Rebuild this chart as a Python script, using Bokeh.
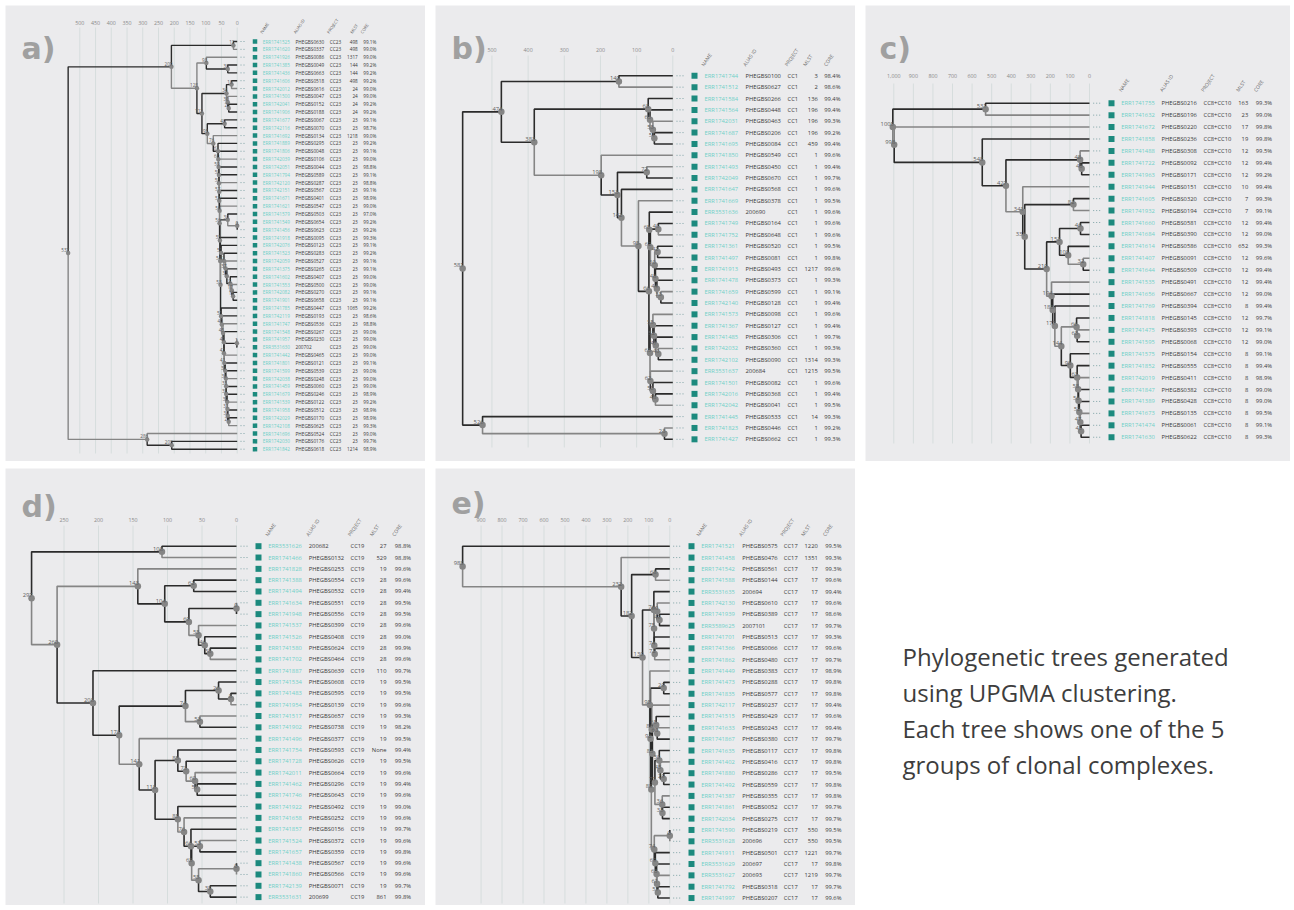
from bokeh.plotting import figure
from bokeh.models import Range1d, Label, ColumnDataSource, Spacer
from bokeh.layouts import row, column
from bokeh.embed import file_html
from bokeh.resources import INLINE
from bokeh.core.properties import value

# ----------------------------------------------------------------- data ----
HEADERS = ["NAME", "ALIAS ID", "PROJECT", "MLST", "CORE"]

# ---- panel a (CC23)
NAMES_A = ["ERR1741525", "ERR1741620", "ERR1741926", "ERR1741385", "ERR1741436", "ERR1741606",
           "ERR1742012", "ERR1741500", "ERR1742041", "ERR1741906", "ERR1741677", "ERR1742116",
           "ERR1741692", "ERR1741889", "ERR1741806", "ERR1742039", "ERR1742051", "ERR1741794",
           "ERR1742120", "ERR1742151", "ERR1741671", "ERR1741621", "ERR1741579", "ERR1741549",
           "ERR1741456", "ERR1741918", "ERR1742076", "ERR1741523", "ERR1742059", "ERR1741375",
           "ERR1741602", "ERR1741553", "ERR1742082", "ERR1741901", "ERR1741785", "ERR1742119",
           "ERR1741747", "ERR1741548", "ERR1741957", "ERR3531630", "ERR1741442", "ERR1741801",
           "ERR1741599", "ERR1742038", "ERR1741459", "ERR1741679", "ERR1741539", "ERR1741958",
           "ERR1742029", "ERR1742108", "ERR1741696", "ERR1742030", "ERR1741842"]
ALIAS_A = ["PHEGBS0630", "PHEGBS0337", "PHEGBS0086", "PHEGBS0049", "PHEGBS0663", "PHEGBS0518",
           "PHEGBS0616", "PHEGBS0047", "PHEGBS0152", "PHEGBS0188", "PHEGBS0067", "PHEGBS0070",
           "PHEGBS0134", "PHEGBS0295", "PHEGBS0048", "PHEGBS0106", "PHEGBS0044", "PHEGBS0589",
           "PHEGBS0287", "PHEGBS0567", "PHEGBS0401", "PHEGBS0547", "PHEGBS0503", "PHEGBS0654",
           "PHEGBS0623", "PHEGBS0095", "PHEGBS0123", "PHEGBS0283", "PHEGBS0527", "PHEGBS0265",
           "PHEGBS0407", "PHEGBS0500", "PHEGBS0270", "PHEGBS0658", "PHEGBS0447", "PHEGBS0193",
           "PHEGBS0536", "PHEGBS0267", "PHEGBS0230", "200702", "PHEGBS0465", "PHEGBS0121",
           "PHEGBS0539", "PHEGBS0248", "PHEGBS0060", "PHEGBS0246", "PHEGBS0122", "PHEGBS0512",
           "PHEGBS0170", "PHEGBS0625", "PHEGBS0524", "PHEGBS0176", "PHEGBS0618"]
PROJECT_A = "CC23"
MLST_A = ["498", "498", "1317", "144", "144", "498", "24", "24", "24", "24", "23", "23", "1218",
          "23", "23", "23", "23", "23", "23", "23", "23", "23", "23", "23", "23", "23", "23",
          "23", "23", "23", "23", "23", "23", "23", "1065", "23", "23", "23", "23", "23", "23",
          "23", "23", "23", "23", "23", "23", "23", "23", "23", "23", "23", "1214"]
CORE_A = ["99.1%", "99.0%", "99.0%", "99.2%", "99.2%", "99.2%", "99.0%", "99.0%", "99.2%", "99.2%",
          "99.1%", "98.7%", "99.0%", "99.2%", "99.1%", "99.0%", "98.8%", "99.1%", "98.8%", "99.1%",
          "98.9%", "99.0%", "97.0%", "99.2%", "99.2%", "99.3%", "99.1%", "99.2%", "99.1%", "99.1%",
          "99.0%", "99.0%", "99.1%", "99.1%", "99.2%", "98.6%", "98.8%", "99.0%", "99.0%", "99.0%",
          "99.0%", "99.1%", "99.0%", "99.0%", "99.0%", "98.9%", "99.2%", "98.9%", "98.9%", "99.3%",
          "99.0%", "99.7%", "98.9%"]
TICKS_A = [0, 50, 100, 150, 200, 250, 300, 350, 400, 450, 500]
# UPGMA tree, Newick style: leaves are row numbers, internal labels are node heights
TREE_A = (
    "(((0,1)12,((2,(3,4)30)98,(((5,6)18,(7,(8,9)27)30)34,((10,11)40,"
    "(12,(13,(14,(15,(16,(17,(18,(19,(20,(21,((22,(23,24)0)30,(25,("
    "(26,(27,(28,(29,(30,(31,(32,33)13)17)22)33)37)42)51,"
    "(34,(35,(36,(37,((38,39)1,(40,(41,(42,(43,(44,(45,(46,(47,(48,49)27)"
    "30)31)32)35)35)36)38)41)42)42)45)49)51"
    ")53)54)55)56)56)57)57)58)58)59)60)61)76)95)112)128)209,"
    "(50,(51,52)208)286)537"
)

# ---- panel b (CC1)
NAMES_B = ["ERR1741744", "ERR1741512", "ERR1741584", "ERR1741564", "ERR1742031", "ERR1741687",
           "ERR1741695", "ERR1741850", "ERR1741493", "ERR1742049", "ERR1741647", "ERR1741669",
           "ERR3531636", "ERR1741749", "ERR1741752", "ERR1741361", "ERR1741497", "ERR1741913",
           "ERR1741478", "ERR1741659", "ERR1742140", "ERR1741573", "ERR1741367", "ERR1741485",
           "ERR1742032", "ERR1742102", "ERR3531637", "ERR1741501", "ERR1742016", "ERR1742042",
           "ERR1741445", "ERR1741823", "ERR1741427"]
ALIAS_B = ["PHEGBS0100", "PHEGBS0627", "PHEGBS0266", "PHEGBS0448", "PHEGBS0463", "PHEGBS0206",
           "PHEGBS0084", "PHEGBS0549", "PHEGBS0450", "PHEGBS0670", "PHEGBS0568", "PHEGBS0378",
           "200690", "PHEGBS0164", "PHEGBS0648", "PHEGBS0520", "PHEGBS0081", "PHEGBS0493",
           "PHEGBS0373", "PHEGBS0599", "PHEGBS0128", "PHEGBS0098", "PHEGBS0127", "PHEGBS0306",
           "PHEGBS0360", "PHEGBS0090", "200684", "PHEGBS0082", "PHEGBS0368", "PHEGBS0041",
           "PHEGBS0533", "PHEGBS0446", "PHEGBS0662"]
PROJECT_B = "CC1"
MLST_B = ["3", "2", "136", "196", "196", "196", "459", "1", "1", "1", "1", "1", "1", "1", "1", "1",
          "1", "1217", "1", "1", "1", "1", "1", "1", "1", "1314", "1215", "1", "1", "1", "14", "1", "1"]
CORE_B = ["98.4%", "98.6%", "99.4%", "99.4%", "99.3%", "99.2%", "99.4%", "99.6%", "99.4%", "99.7%",
          "99.6%", "99.5%", "99.6%", "99.6%", "99.6%", "99.5%", "99.8%", "99.6%", "99.3%", "99.1%",
          "99.4%", "99.6%", "99.4%", "99.7%", "99.3%", "99.3%", "99.5%", "99.6%", "99.4%", "99.5%",
          "99.3%", "99.2%", "99.3%"]
TICKS_B = [0, 100, 200, 300, 400, 500]
TREE_B = (
    "(((0,1)149,((2,(3,(4,(5,6)51)55)63)68,(7,((8,9)72,(10,(11,("
    "(12,((13,14)40,((15,16)42,(17,(18,(19,20)33)44)48)50)62)65,"
    "((21,(22,(23,(24,25)40)47)52)55,(26,(27,(28,29)48)55)62)63"
    ")66)95)142)153)198)383)474,(30,(31,32)23)526)581"
)

# ---- panel c (CC8+CC10)
NAMES_C = ["ERR1741755", "ERR1741632", "ERR1741672", "ERR1741858", "ERR1741488", "ERR1741722",
           "ERR1741963", "ERR1741944", "ERR1741605", "ERR1741932", "ERR1741660", "ERR1741684",
           "ERR1741614", "ERR1741407", "ERR1741644", "ERR1741535", "ERR1741656", "ERR1741769",
           "ERR1741818", "ERR1741475", "ERR1741595", "ERR1741575", "ERR1741852", "ERR1742019",
           "ERR1741847", "ERR1741389", "ERR1741673", "ERR1741474", "ERR1741630"]
ALIAS_C = ["PHEGBS0216", "PHEGBS0196", "PHEGBS0220", "PHEGBS0236", "PHEGBS0308", "PHEGBS0092",
           "PHEGBS0171", "PHEGBS0151", "PHEGBS0320", "PHEGBS0194", "PHEGBS0581", "PHEGBS0390",
           "PHEGBS0586", "PHEGBS0091", "PHEGBS0509", "PHEGBS0491", "PHEGBS0667", "PHEGBS0394",
           "PHEGBS0145", "PHEGBS0393", "PHEGBS0068", "PHEGBS0154", "PHEGBS0555", "PHEGBS0411",
           "PHEGBS0382", "PHEGBS0428", "PHEGBS0135", "PHEGBS0061", "PHEGBS0622"]
PROJECT_C = "CC8+CC10"
MLST_C = ["163", "23", "17", "19", "12", "12", "12", "10", "7", "7", "12", "12", "652", "12", "12",
          "12", "12", "8", "12", "12", "12", "8", "8", "8", "8", "8", "8", "8", "8"]
CORE_C = ["99.3%", "99.0%", "99.8%", "99.8%", "99.5%", "99.4%", "99.2%", "99.4%", "99.3%", "99.1%",
          "99.4%", "99.0%", "99.3%", "99.6%", "99.4%", "99.4%", "99.0%", "99.4%", "99.7%", "99.1%",
          "99.0%", "99.1%", "99.4%", "98.9%", "99.0%", "99.0%", "99.5%", "99.1%", "99.3%"]
TICKS_C = [0, 100, 200, 300, 400, 500, 600, 700, 800, 900, 1000]
TREE_C = (
    "((0,1)531,(2,(3,((4,(5,6)40)48,(7,((8,9)82,(((10,11)46,(12,(13,14)32)109)153,"
    "(15,(16,(17,((18,(19,20)63)66,(21,(22,(23,(24,(25,(26,(27,28)43)47)52)56)58)63)98)144)"
    "177)188)194)219)331)341)427)548)998)1005"
)

# ---- panel d (CC19)
NAMES_D = ["ERR3531626", "ERR1741466", "ERR1741828", "ERR1741388", "ERR1741494", "ERR1741634",
           "ERR1741948", "ERR1741537", "ERR1741526", "ERR1741580", "ERR1741702", "ERR1741887",
           "ERR1741534", "ERR1741483", "ERR1741954", "ERR1741517", "ERR1741902", "ERR1741496",
           "ERR1741754", "ERR1741728", "ERR1742011", "ERR1741462", "ERR1741746", "ERR1741922",
           "ERR1741658", "ERR1741857", "ERR1741524", "ERR1741657", "ERR1741438", "ERR1741860",
           "ERR1742139", "ERR3531631"]
ALIAS_D = ["200682", "PHEGBS0132", "PHEGBS0253", "PHEGBS0554", "PHEGBS0532", "PHEGBS0551",
           "PHEGBS0556", "PHEGBS0399", "PHEGBS0408", "PHEGBS0624", "PHEGBS0464", "PHEGBS0639",
           "PHEGBS0608", "PHEGBS0595", "PHEGBS0139", "PHEGBS0657", "PHEGBS0738", "PHEGBS0377",
           "PHEGBS0593", "PHEGBS0626", "PHEGBS0664", "PHEGBS0296", "PHEGBS0643", "PHEGBS0492",
           "PHEGBS0252", "PHEGBS0156", "PHEGBS0372", "PHEGBS0359", "PHEGBS0567", "PHEGBS0566",
           "PHEGBS0071", "200699"]
PROJECT_D = "CC19"
MLST_D = ["27", "529", "19", "28", "28", "28", "28", "28", "28", "28", "28", "110", "19", "19",
          "19", "19", "19", "19", "None", "19", "19", "19", "19", "19", "19", "19", "19", "19",
          "19", "19", "19", "861"]
CORE_D = ["98.8%", "98.8%", "99.6%", "99.6%", "99.4%", "99.5%", "99.5%", "99.6%", "99.0%", "99.9%",
          "99.6%", "99.7%", "99.5%", "99.5%", "99.6%", "99.3%", "98.2%", "99.5%", "99.4%", "99.5%",
          "99.6%", "99.4%", "99.6%", "99.0%", "99.6%", "99.7%", "99.6%", "99.8%", "99.6%", "99.6%",
          "99.7%", "99.8%"]
TICKS_D = [0, 50, 100, 150, 200, 250]
TREE_D = (
    "((0,1)108,((2,((3,4)62,((5,6)0,(7,(8,(9,10)38)46)55)69)104)143,"
    "(11,(((12,(13,14)8)26,(15,16)53)74,(17,((18,(19,(20,(21,22)57)60)73)85,"
    "(23,(24,(25,((26,27)53,((28,29)0,(30,31)38)55)65)66)76)85)118)141)170)208)260)297"
)

# ---- panel e (CC17)
NAMES_E = ["ERR1741521", "ERR1741458", "ERR1741542", "ERR1741588", "ERR3531635", "ERR1742130",
           "ERR1741939", "ERR3589625", "ERR1741701", "ERR1741366", "ERR1741862", "ERR1741449",
           "ERR1741473", "ERR1741835", "ERR1742117", "ERR1741515", "ERR1741633", "ERR1741867",
           "ERR1741635", "ERR1741402", "ERR1741880", "ERR1741492", "ERR1741387", "ERR1741861",
           "ERR1742034", "ERR1741590", "ERR3531628", "ERR1741911", "ERR3531629", "ERR3531627",
           "ERR1741792", "ERR1741997"]
ALIAS_E = ["PHEGBS0575", "PHEGBS0476", "PHEGBS0561", "PHEGBS0144", "200694", "PHEGBS0610",
           "PHEGBS0389", "2007101", "PHEGBS0513", "PHEGBS0066", "PHEGBS0480", "PHEGBS0383",
           "PHEGBS0288", "PHEGBS0577", "PHEGBS0237", "PHEGBS0429", "PHEGBS0243", "PHEGBS0380",
           "PHEGBS0117", "PHEGBS0416", "PHEGBS0286", "PHEGBS0559", "PHEGBS0355", "PHEGBS0052",
           "PHEGBS0275", "PHEGBS0219", "200696", "PHEGBS0501", "200697", "200693", "PHEGBS0318",
           "PHEGBS0207"]
PROJECT_E = "CC17"
MLST_E = ["1220", "1351", "17", "17", "17", "17", "17", "17", "17", "17", "17", "17", "17", "17",
          "17", "17", "17", "17", "17", "17", "17", "17", "17", "17", "17", "550", "550", "1221",
          "17", "1219", "17", "17"]
CORE_E = ["99.5%", "99.3%", "99.3%", "99.6%", "99.4%", "99.6%", "98.6%", "99.7%", "99.3%", "99.6%",
          "99.7%", "98.9%", "99.8%", "99.8%", "99.4%", "99.6%", "99.4%", "99.7%", "99.8%", "99.8%",
          "99.5%", "99.8%", "99.8%", "99.7%", "99.7%", "99.5%", "99.5%", "99.7%", "99.8%", "99.7%",
          "99.7%", "99.6%"]
TICKS_E = [0, 100, 200, 300, 400, 500, 600, 700, 800, 900]
TREE_E = (
    "(0,(1,((2,3)68,((4,((5,(6,7)49)60,(8,(9,10)72)74)75)76,(11,((12,13)29,"
    "((14,((15,(16,17)60)65,((18,(19,(20,21)29)45)50,(22,(23,24)35)36)71)83)86,"
    "((25,26)0,(27,(28,(29,(30,31)57)61)63)69)74)88)92)95)130)182)232)988"
)

TEXT_LINES = ["Phylogenetic trees generated", "using UPGMA clustering.",
              "Each tree shows one of the 5", "groups of clonal complexes."]

# ---------------------------------------------------------------- style ----
FONT = "Open Sans"
BG = "#ebebed"
GRID = "#d6dddd"
DARK = "#2b2b2b"
GREY = "#858585"
TEAL = "#1c8a7e"
NAMEC = "#6fd0c8"
TXT = "#3a3a3a"
DOTC = "#7fa3a6"

# geometry in layout pixels: panel box (left, top, w, h) and content positions
LAY = {
    "a": dict(box=(5, 5, 420, 456), grid=(27, 453), tick_y=22, row0=41.0, dy=7.84, zero=236.7,
              scale=0.3148, dots=(240, 246), sq=254.5, sq_size=4.5,
              cols=(262.3, 295.0, 329.3, 357.3, 362.7), hdr=(262.7, 296.0, 329.5, 352.7, 363.0),
              hdr_y=34.0, fs=4.7, hfs=4.2, lfs=4.6, dot=4.5, lw=1.4, letter=(21, 30)),
    "b": dict(box=(435, 5, 420, 456), grid=(55, 447), tick_y=49, row0=75.3, dy=11.36, zero=672.3,
              scale=0.3617, dots=(676, 683.3), sq=694, sq_size=6,
              cols=(704, 745, 787, 817.3, 823.7), hdr=(704.3, 746, 787.7, 806, 826.7),
              hdr_y=66.7, fs=5.8, hfs=5, lfs=5.8, dot=6.5, lw=1.6, letter=(451, 30)),
    "c": dict(box=(865, 5, 425, 456), grid=(83, 443), tick_y=75, row0=102.7, dy=11.93, zero=1089,
              scale=0.1957, dots=(1092.7, 1100), sq=1111, sq_size=6,
              cols=(1120.7, 1161, 1203, 1247.7, 1255.3), hdr=(1121.7, 1162.7, 1204, 1239, 1256.7),
              hdr_y=92.3, fs=5.8, hfs=5, lfs=5.8, dot=6.5, lw=1.6, letter=(879, 30)),
    "d": dict(box=(5, 468, 420, 437), grid=(525, 903), tick_y=519, row0=545.7, dy=11.32, zero=236,
              scale=0.690, dots=(240, 247.7), sq=258, sq_size=6,
              cols=(267.7, 308.3, 350, 386, 394.3), hdr=(268.3, 309, 350.7, 372.7, 395),
              hdr_y=536.7, fs=5.8, hfs=5, lfs=5.8, dot=6.5, lw=1.6, letter=(21, 488)),
    "e": dict(box=(435, 468, 420, 437), grid=(525, 903), tick_y=519, row0=545.7, dy=11.35,
              zero=669.3, scale=0.2097, dots=(672.7, 680), sq=691, sq_size=6,
              cols=(700.7, 741.7, 783.3, 817.3, 824.7), hdr=(699.3, 741.7, 783.3, 804, 825.7),
              hdr_y=536.7, fs=5.8, hfs=5, lfs=5.8, dot=6.5, lw=1.6, letter=(451, 485)),
}


def parse_newick(s):
    s = "".join(s.split())
    pos = 0

    def node():
        nonlocal pos
        if s[pos] == "(":
            pos += 1
            kids = [node()]
            while s[pos] == ",":
                pos += 1
                kids.append(node())
            assert s[pos] == ")"
            pos += 1
            st = pos
            while pos < len(s) and (s[pos].isdigit() or s[pos] == "."):
                pos += 1
            return (float(s[st:pos]), kids)
        st = pos
        while pos < len(s) and s[pos].isdigit():
            pos += 1
        return int(s[st:pos])

    t = node()
    assert pos == len(s)
    return t


def layout_tree(tree, n):
    ex, ey, ec = [], [], []
    nx, ny, nl = [], [], []
    leaves = []
    cnt = [0]

    def rec(nd):
        if isinstance(nd, int):
            leaves.append(nd)
            return 0.0, float(nd)
        h, kids = nd
        pts = [rec(k) for k in kids]
        y = (pts[0][1] + pts[-1][1]) / 2.0
        for ch, cy in pts:
            ex.append([ch, h, h])
            ey.append([cy, cy, y])
            ec.append(DARK if cnt[0] % 3 != 1 else GREY)
            cnt[0] += 1
        nx.append(h)
        ny.append(y)
        nl.append(str(int(h)))
        return h, y

    rec(tree)
    assert leaves == list(range(n)), leaves
    return dict(xs=ex, ys=ey, c=ec), dict(x=nx, y=ny, lab=nl)


def build_panel(cfg, tree_str, names, aliases, project, mlst, core, ticks, letter):
    L, T, W, H = cfg["box"]
    gt, gb = cfg["grid"]
    r0, dy = cfg["row0"], cfg["dy"]
    z, s = cfg["zero"], cfg["scale"]
    n = len(names)

    def to_row(py):
        return (py - r0) / dy

    p = figure(width=W, height=H,
               x_range=Range1d((z - L) / s, -(L + W - z) / s),
               y_range=Range1d(to_row(T + H), to_row(T)),
               x_axis_location=None, y_axis_location=None,
               output_backend="svg", toolbar_location=None, min_border=0,
               background_fill_color=BG, border_fill_color=BG, outline_line_color=None)
    p.extra_x_ranges = {"tbl": Range1d(L, L + W)}
    p.xgrid.visible = False
    p.ygrid.visible = False

    # distance grid lines and tick labels, placed through the distance scale
    p.segment(x0=ticks, y0=to_row(gt), x1=ticks, y1=to_row(gb), line_color=GRID, line_width=1)
    p.text(x=ticks, y=to_row(cfg["tick_y"]), text=[f"{t:,}" for t in ticks],
           text_font=value(FONT), text_font_size="5.3px", text_color="#8a8a8a",
           text_align="center", text_baseline="middle")

    edges, nodes = layout_tree(parse_newick(tree_str), n)
    p.multi_line(xs="xs", ys="ys", line_color="c", line_width=cfg["lw"],
                 source=ColumnDataSource(edges))
    nsrc = ColumnDataSource(nodes)
    p.scatter(x="x", y="y", size=cfg["dot"], fill_color="#858585", line_color=None, source=nsrc)
    p.text(x="x", y="y", text="lab", source=nsrc, text_font=value(FONT),
           text_font_size=f"{cfg['lfs']}px", text_color="#5c5c5c", text_align="right",
           text_baseline="bottom", x_offset=1, y_offset=-1)

    src = ColumnDataSource(dict(row=list(range(n)), name=names, alias=aliases,
                                proj=[project] * n, mlst=mlst, core=core))
    d0, d1 = cfg["dots"]
    p.segment(x0=d0, y0="row", x1=d1, y1="row", source=src, x_range_name="tbl",
              line_color=DOTC, line_width=1, line_dash="1 2")
    p.scatter(x=cfg["sq"], y="row", source=src, x_range_name="tbl", marker="square",
              size=cfg["sq_size"], fill_color=TEAL, line_color=None)
    fs = f"{cfg['fs']}px"
    cx = cfg["cols"]
    common = dict(y="row", source=src, x_range_name="tbl", text_font=value(FONT),
                  text_font_size=fs, text_baseline="middle")
    p.text(x=cx[0], text="name", text_color=NAMEC, text_align="left", **common)
    p.text(x=cx[1], text="alias", text_color=TXT, text_align="left", **common)
    p.text(x=cx[2], text="proj", text_color=TXT, text_align="left", **common)
    p.text(x=cx[3], text="mlst", text_color=TXT, text_align="right", **common)
    p.text(x=cx[4], text="core", text_color=TXT, text_align="left", **common)

    for hx, txt in zip(cfg["hdr"], HEADERS):
        p.add_layout(Label(x=hx, y=to_row(cfg["hdr_y"]), x_range_name="tbl", text=txt,
                           angle=55, angle_units="deg", text_font=FONT,
                           text_font_size=f"{cfg['hfs']}px", text_color="#666666",
                           text_align="left", text_baseline="bottom"))
    lx, ly = cfg["letter"]
    p.add_layout(Label(x=lx, y=to_row(ly), x_range_name="tbl", text=letter,
                       text_font="DejaVu Sans", text_font_size="30px", text_font_style="bold",
                       text_color="#a0a0a0", text_align="left", text_baseline="top"))
    return p


pa = build_panel(LAY["a"], TREE_A, NAMES_A, ALIAS_A, PROJECT_A, MLST_A, CORE_A, TICKS_A, "a)")
pb = build_panel(LAY["b"], TREE_B, NAMES_B, ALIAS_B, PROJECT_B, MLST_B, CORE_B, TICKS_B, "b)")
pc = build_panel(LAY["c"], TREE_C, NAMES_C, ALIAS_C, PROJECT_C, MLST_C, CORE_C, TICKS_C, "c)")
pd = build_panel(LAY["d"], TREE_D, NAMES_D, ALIAS_D, PROJECT_D, MLST_D, CORE_D, TICKS_D, "d)")
pe = build_panel(LAY["e"], TREE_E, NAMES_E, ALIAS_E, PROJECT_E, MLST_E, CORE_E, TICKS_E, "e)")

# description text panel (layout box 865,468 425x437)
TL, TT, TW, TH = 865, 468, 425, 437
tp = figure(width=TW, height=TH, x_range=Range1d(TL, TL + TW), y_range=Range1d(TT + TH, TT),
            x_axis_location=None, y_axis_location=None, output_backend="svg",
            toolbar_location=None, min_border=0, background_fill_color="white",
            border_fill_color="white", outline_line_color=None)
tp.xgrid.visible = False
tp.ygrid.visible = False
TEXT_BASELINES = [656, 692, 728, 764]
for line, by in zip(TEXT_LINES, TEXT_BASELINES):
    tp.add_layout(Label(x=902, y=by, text=line, text_font=FONT, text_font_size="24px",
                        text_color="#3d3d3d", text_align="left", text_baseline="alphabetic"))

layout = column(
    Spacer(width=1, height=5),
    row(Spacer(width=5, height=1), pa, Spacer(width=10, height=1), pb,
        Spacer(width=10, height=1), pc),
    Spacer(width=1, height=7),
    row(Spacer(width=5, height=1), pd, Spacer(width=10, height=1), pe,
        Spacer(width=10, height=1), tp),
)

open("out.html", "w").write(file_html(layout, INLINE))
